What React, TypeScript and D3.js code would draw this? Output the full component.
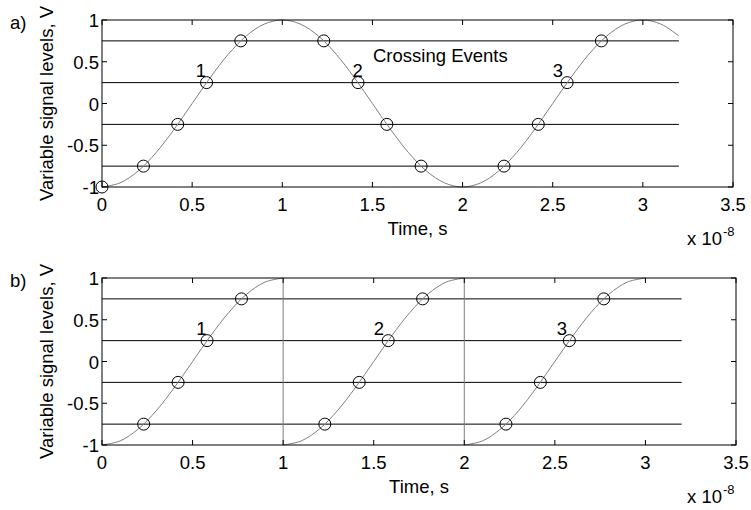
import React from "react";
import * as d3 from "d3";

// ---- data ----
const topTime = [0, 0.1, 0.2, 0.3, 0.4, 0.5, 0.6, 0.7, 0.8, 0.9, 1.0, 1.1, 1.2, 1.3, 1.4, 1.5, 1.6, 1.7, 1.8, 1.9, 2.0, 2.1, 2.2, 2.3, 2.4, 2.5, 2.6, 2.7, 2.8, 2.9, 3.0, 3.1, 3.2];
const topSignal = [-1, -0.951, -0.809, -0.588, -0.309, 0, 0.309, 0.588, 0.809, 0.951, 1, 0.951, 0.809, 0.588, 0.309, 0, -0.309, -0.588, -0.809, -0.951, -1, -0.951, -0.809, -0.588, -0.309, 0, 0.309, 0.588, 0.809, 0.951, 1, 0.951, 0.809];

const bottomTime = [0, 0.1, 0.2, 0.3, 0.4, 0.5, 0.6, 0.7, 0.8, 0.9, 1.0, 1.0, 1.1, 1.2, 1.3, 1.4, 1.5, 1.6, 1.7, 1.8, 1.9, 2.0, 2.0, 2.1, 2.2, 2.3, 2.4, 2.5, 2.6, 2.7, 2.8, 2.9, 3.0];
const bottomSignal = [-1, -0.951, -0.809, -0.588, -0.309, 0, 0.309, 0.588, 0.809, 0.951, 1, -1, -0.951, -0.809, -0.588, -0.309, 0, 0.309, 0.588, 0.809, 0.951, 1, -1, -0.951, -0.809, -0.588, -0.309, 0, 0.309, 0.588, 0.809, 0.951, 1];

const levels = [-0.75, -0.25, 0.25, 0.75];
const levelSpan = [0, 3.2];

const topCrossTime = [0, 0.23, 0.42, 0.58, 0.77, 1.23, 1.42, 1.58, 1.77, 2.23, 2.42, 2.58, 2.77];
const topCrossValue = [-1, -0.75, -0.25, 0.25, 0.75, 0.75, 0.25, -0.25, -0.75, -0.75, -0.25, 0.25, 0.75];
const bottomCrossTime = [0.23, 0.42, 0.58, 0.77, 1.23, 1.42, 1.58, 1.77, 2.23, 2.42, 2.58, 2.77];
const bottomCrossValue = [-0.75, -0.25, 0.25, 0.75, -0.75, -0.25, 0.25, 0.75, -0.75, -0.25, 0.25, 0.75];

const eventLabels = ["1", "2", "3"];
const topLabelTime = [0.52, 1.39, 2.5];
const bottomLabelTime = [0.52, 1.5, 2.51];
const labelValue = 0.32;

const xTicks = [0, 0.5, 1, 1.5, 2, 2.5, 3, 3.5];
const xTickLabels = ["0", "0.5", "1", "1.5", "2", "2.5", "3", "3.5"];
const yTicks = [-1, -0.5, 0, 0.5, 1];
const yTickLabels = ["-1", "-0.5", "0", "0.5", "1"];

const FONT = "Arial, 'Liberation Sans', Helvetica, sans-serif";
const FS = 18.5;

type PanelProps = {
  left: number; right: number; top: number; bottom: number;
  time: number[]; signal: number[];
  crossT: number[]; crossV: number[];
  labelT: number[];
  tag: string;
  extraText?: boolean;
};

function Panel(p: PanelProps) {
  const x = d3.scaleLinear().domain([0, 3.5]).range([p.left, p.right]);
  const y = d3.scaleLinear().domain([-1, 1]).range([p.bottom, p.top]);
  const line = d3.line<[number, number]>().x(d => x(d[0])).y(d => y(d[1])).curve(d3.curveCatmullRom);

  const runs: [number, number][][] = [];
  const drops: [[number, number], [number, number]][] = [];
  let cur: [number, number][] = [];
  p.time.forEach((t, i) => {
    if (i > 0 && t === p.time[i - 1]) {
      runs.push(cur);
      drops.push([[p.time[i - 1], p.signal[i - 1]], [t, p.signal[i]]]);
      cur = [];
    }
    cur.push([t, p.signal[i]]);
  });
  runs.push(cur);

  const tl = 5;
  const midY = (p.top + p.bottom) / 2;
  const midX = (p.left + p.right) / 2;
  return (
    <g fontFamily={FONT}>
      {levels.map((v, i) => (
        <line key={"lv" + i} x1={x(levelSpan[0])} x2={x(levelSpan[1])} y1={y(v)} y2={y(v)} stroke="#000" strokeWidth={1} />
      ))}
      {runs.map((r, i) => (
        <path key={"run" + i} d={line(r) || ""} fill="none" stroke="#7f7f7f" strokeWidth={1} />
      ))}
      {drops.map((d, i) => (
        <line key={"dr" + i} x1={x(d[0][0])} x2={x(d[1][0])} y1={y(d[0][1])} y2={y(d[1][1])} stroke="#7f7f7f" strokeWidth={1} />
      ))}
      {p.crossT.map((t, i) => (
        <circle key={"c" + i} cx={x(t)} cy={y(p.crossV[i])} r={6} fill="none" stroke="#000" strokeWidth={1} />
      ))}
      {p.labelT.map((t, i) => (
        <text key={"el" + i} x={x(t)} y={y(labelValue)} fontSize={FS} fill="#000">{eventLabels[i]}</text>
      ))}
      <rect x={p.left} y={p.top} width={p.right - p.left} height={p.bottom - p.top} fill="none" stroke="#000" strokeWidth={1} />
      {xTicks.map((t, i) => (
        <g key={"xt" + i}>
          <line x1={x(t)} x2={x(t)} y1={p.bottom} y2={p.bottom - tl} stroke="#000" />
          <line x1={x(t)} x2={x(t)} y1={p.top} y2={p.top + tl} stroke="#000" />
          <text x={x(t)} y={p.bottom + 24} fontSize={FS} textAnchor="middle" fill="#000">{xTickLabels[i]}</text>
        </g>
      ))}
      {yTicks.map((v, i) => (
        <g key={"yt" + i}>
          <line x1={p.left} x2={p.left + tl} y1={y(v)} y2={y(v)} stroke="#000" />
          <line x1={p.right} x2={p.right - tl} y1={y(v)} y2={y(v)} stroke="#000" />
          <text x={p.left - 3} y={y(v) + 7} fontSize={FS} textAnchor="end" fill="#000">{yTickLabels[i]}</text>
        </g>
      ))}
      <text x={midX} y={p.bottom + 48} fontSize={FS} textAnchor="middle" fill="#000">Time, s</text>
      <text transform={`translate(${53},${midY}) rotate(-90)`} fontSize={FS} textAnchor="middle" fill="#000">Variable signal levels, V</text>
      <text x={10} y={p.top + 9} fontSize={FS} fill="#000">{p.tag}</text>
      <text x={687} y={p.bottom + 58} fontSize={FS} fill="#000">x 10</text>
      <text x={723} y={p.bottom + 49} fontSize={13} fill="#000">-8</text>
      {p.extraText && (
        <text x={373} y={62} fontSize={FS} fill="#000">Crossing Events</text>
      )}
    </g>
  );
}

export default function App() {
  return (
    <svg width={751} height={510} style={{ position: "absolute", left: 0, top: 0, background: "#fff" }}>
      <rect x={0} y={0} width={751} height={510} fill="#fff" />
      <Panel left={102} right={733} top={20} bottom={187} time={topTime} signal={topSignal}
        crossT={topCrossTime} crossV={topCrossValue} labelT={topLabelTime} tag="a)" extraText />
      <Panel left={102} right={736} top={278} bottom={445} time={bottomTime} signal={bottomSignal}
        crossT={bottomCrossTime} crossV={bottomCrossValue} labelT={bottomLabelTime} tag="b)" />
    </svg>
  );
}
